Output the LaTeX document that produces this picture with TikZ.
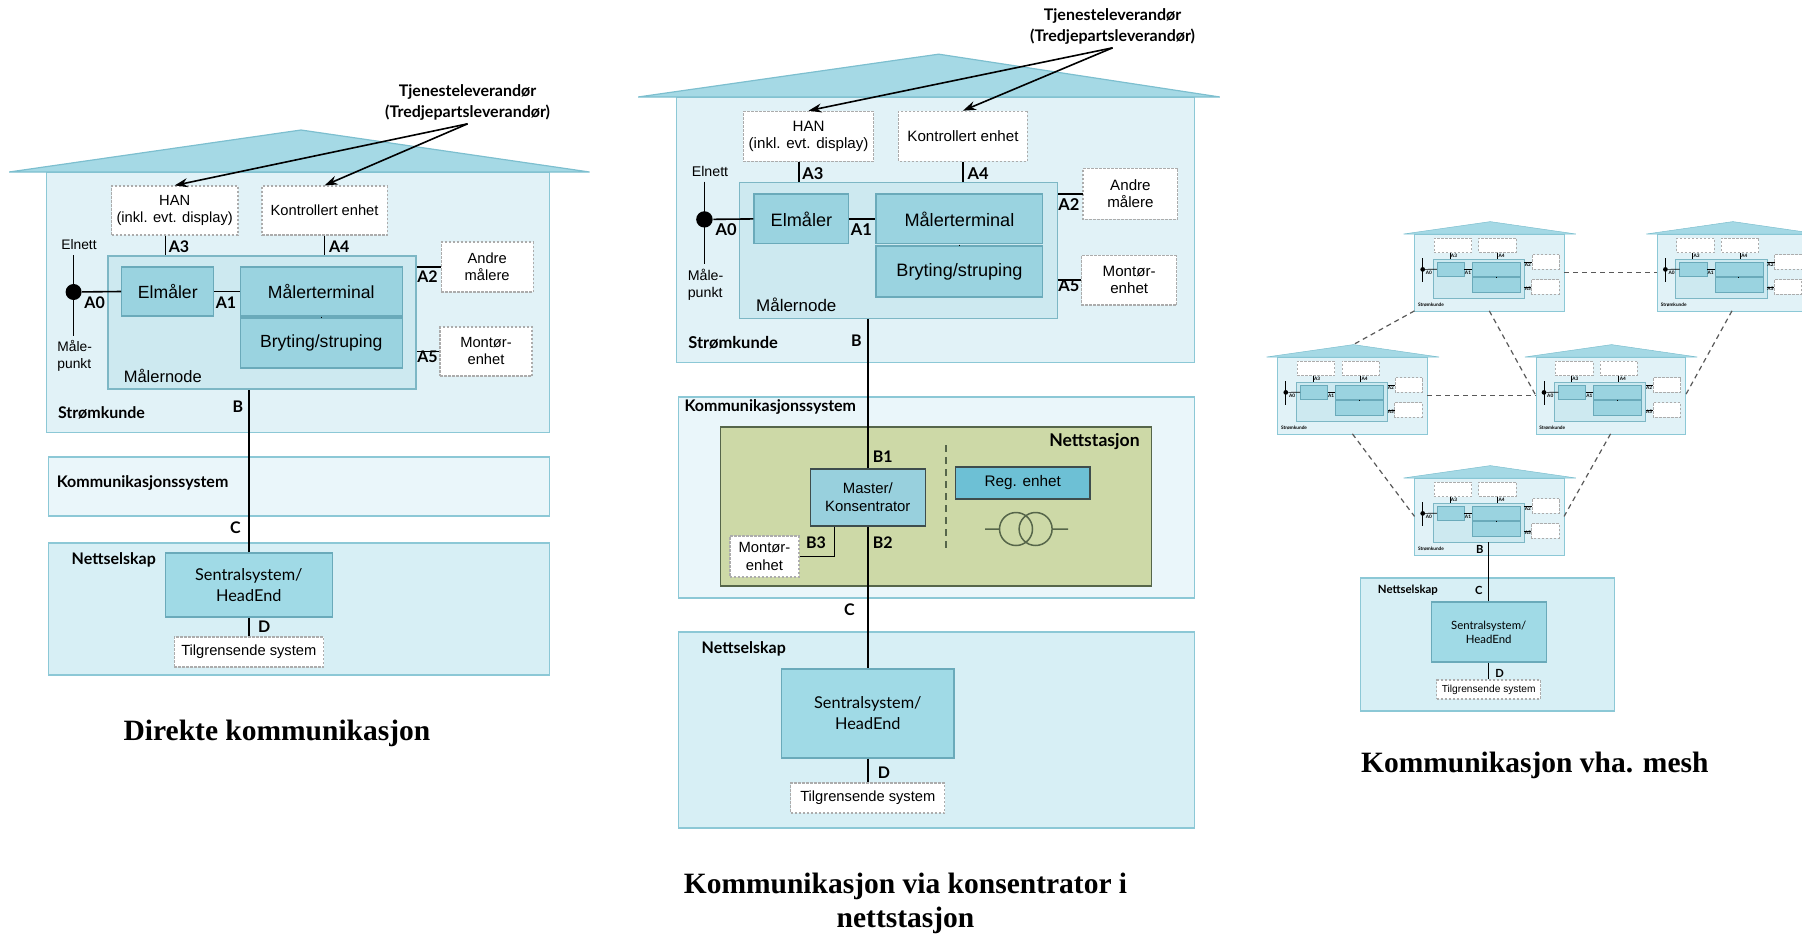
\documentclass[tikz,border=0pt]{standalone}
\usepackage{fontspec}
\setmainfont{Liberation Sans}
\newfontfamily\humanist{Lato}
\newfontfamily\tittelfont{Liberation Serif}
\usetikzlibrary{arrows.meta}

\definecolor{husfyll}{HTML}{E1F2F7}
\definecolor{husrand}{HTML}{8CC8D6}
\definecolor{takfyll}{HTML}{A5D9E5}
\definecolor{takrand}{HTML}{7DBFCF}
\definecolor{nodefyll}{HTML}{CDE9F0}
\definecolor{noderand}{HTML}{7DB7C5}
\definecolor{enhetfyll}{HTML}{9AD3E0}
\definecolor{enhetrand}{HTML}{6AAABA}
\definecolor{ksysfyll}{HTML}{EAF6FA}
\definecolor{nettfyll}{HTML}{D7EFF5}
\definecolor{sentralfyll}{HTML}{A0DAE6}
\definecolor{stasjonfyll}{HTML}{CDD9A7}
\definecolor{stasjonrand}{HTML}{56664A}
\definecolor{masterfyll}{HTML}{98D0DD}
\definecolor{regfyll}{HTML}{6DC0D5}
\definecolor{mrk}{HTML}{3E4D4D}

\tikzset{
  hus/.style={draw=husrand, fill=husfyll},
  tak/.style={draw=takrand, fill=takfyll},
  maalernode/.style={draw=noderand, fill=nodefyll},
  enhet/.style={draw=enhetrand, fill=enhetfyll, font=\fontsize{17.6}{20}\selectfont},
  stiplet/.style={draw=gray!65, fill=white, dash pattern=on 2.5pt off 1.5pt, align=center, font=\fontsize{14.7}{17}\selectfont},
  liten/.style={font=\fontsize{13.8}{17}\selectfont},
  etikett/.style={font=\humanist\bfseries\fontsize{16}{21}\selectfont},
  omraade/.style={draw=husrand, fill=#1, inner sep=0},
  sentral/.style={draw=enhetrand, fill=sentralfyll, align=center, font=\humanist\fontsize{16.3}{21}\selectfont},
  stasjon/.style={draw=stasjonrand, fill=stasjonfyll, line width=1.5pt},
  master/.style={draw=mrk, fill=masterfyll, align=center, font=\fontsize{14.9}{18}\selectfont},
  regenhet/.style={draw=mrk, fill=regfyll, font=\fontsize{15.3}{17}\selectfont},
  prikk/.style={circle, fill=black, inner sep=0, minimum size=16},
  lenke/.style={draw=black, line width=1.6pt},
  pil/.style={-{Stealth[length=13pt,width=9pt]}, line width=1.6pt},
  mesh/.style={draw=black!65, line width=1.2pt, dash pattern=on 5pt off 4pt},
  tittel/.style={font=\tittelfont\bfseries\fontsize{29.5}{34}\selectfont, align=center},
}

\newif\ifstor
\stortrue

\newcommand{\maalerhus}[2][543.5]{%
  \node[hus, anchor=north west, minimum width=503, minimum height=260] (#2-hus) at (0,0) {};
  \filldraw[tak] (-36.8,0) -- (255,-42) coordinate (#2-topp) -- (#1,0) -- cycle;
  \node[maalernode, minimum width=308, minimum height=133] (#2-node) at (216,150.5) {};
  \node[enhet, minimum width=92, minimum height=49] (#2-elm) at (121.8,119.5) {\ifstor Elmåler\fi};
  \node[enhet, minimum width=162, minimum height=49] (#2-mt) at (275.2,119.5) {\ifstor Målerterminal\fi};
  \node[enhet, minimum width=162, minimum height=50] (#2-bs) at (275.2,171) {\ifstor Bryting/struping\fi};
  \node[stiplet, minimum width=126.4, minimum height=49] (#2-han) at (128.7,38.5) {\ifstor HAN\\(inkl. evt. display)\fi};
  \node[stiplet, minimum width=125.2, minimum height=49] (#2-ke) at (278.6,38.5) {\ifstor Kontrollert enhet\fi};
  \node[stiplet, minimum width=92, minimum height=50] (#2-andre) at (441.2,95) {\ifstor Andre\\målere\fi};
  \node[stiplet, minimum width=92, minimum height=49] (#2-montor) at (440,179.5) {\ifstor Montør-\\enhet\fi};
  \coordinate (#2-elnett) at (27.6,83);
  \coordinate (#2-punkt) at (27.6,164);
  \node[prikk] (#2-prikk) at (27.6,120) {};
  \draw[lenke] (#2-elnett) -- (#2-punkt);
  \draw[lenke] (#2-prikk) -- (#2-elm.west);
  \draw[lenke] (#2-elm.east) -- (#2-mt.west);
  \draw[lenke, line width=1pt] (#2-mt.south) -- (#2-bs.north);
  \draw[lenke] (#2-han.250) -- (#2-han.250 |- #2-node.north);
  \draw[lenke] (#2-ke.south) -- (#2-ke.south |- #2-node.north);
  \draw[lenke] (#2-andre.west) -- (#2-andre.west -| #2-node.east);
  \draw[lenke] (#2-montor.west) -- (#2-montor.west -| #2-node.east);
  \node[etikett] (#2-a0) at (48.6,130.3) {A0};
  \node[etikett] (#2-a1) at (180,130.3) {A1};
  \node[etikett] (#2-a2) at (381.5,105) {A2};
  \node[etikett] (#2-a3) at (133,74.7) {A3};
  \node[etikett] (#2-a4) at (293.3,74.7) {A4};
  \node[etikett] (#2-a5) at (381.5,184.7) {A5};
  \node[liten] (#2-elnett-tekst) at (33,73) {\ifstor Elnett\fi};
  \node[liten, align=left] (#2-maale) at (28.7,184) {\ifstor Måle-\\punkt\fi};
  \node[liten, font=\fontsize{16.5}{19}\selectfont] (#2-mn-tekst) at (116.8,204) {\ifstor Målernode\fi};
  \node[etikett] (#2-kunde) at (55.5,240.7) {Strømkunde};
}

\begin{document}
\begin{tikzpicture}[x=1pt, y=-1pt, line width=1.2pt]
\useasboundingbox (0,0) rectangle (1802,937);

\node[omraade=ksysfyll, minimum width=501, minimum height=59] (ksys1) at (298.7,486.5) {};
\node[omraade=nettfyll, minimum width=501, minimum height=132] (nett1) at (298.7,609) {};
\begin{scope}[shift={(46,172)}, transform shape]
  \maalerhus{v}
\end{scope}
\node[etikett, anchor=west] (ksys1-tekst) at (52.9,483) {Kommunikasjonssystem};
\node[etikett, anchor=west] (nett1-tekst) at (67.8,560) {Nettselskap};
\node[sentral, minimum width=166.6, minimum height=64] (sentral1) at (248.8,585) {Sentralsystem/\\HeadEnd};
\node[stiplet, minimum width=149.4, minimum height=30] (tilgr1) at (248.8,652) {Tilgrensende system};
\draw[lenke] (sentral1.north) -- (sentral1.north |- v-node.south);
\draw[lenke] (sentral1.south) -- (tilgr1.north);
\node[etikett] (b1) at (237.8,407) {B};
\node[etikett] (c1) at (235.5,528) {C};
\node[etikett] (d1) at (264.3,627) {D};
\node[etikett, align=center] (tjen1) at (467.6,102) {Tjenesteleverandør\\(Tredjepartsleverandør)};
\draw[pil] (tjen1.south) -- (v-han.north);
\draw[pil] (tjen1.south) -- (v-ke.north);
\node[tittel] (tittel1) at (277,733) {Direkte kommunikasjon};

\node[omraade=ksysfyll, minimum width=516, minimum height=201] (ksys2) at (936.2,497.5) {};
\node[omraade=nettfyll, minimum width=516, minimum height=196] (nett2) at (936.2,730) {};
\begin{scope}[shift={(676,97)}, xscale=1.03, yscale=1.02, transform shape]
  \maalerhus[528]{k}
\end{scope}
\node[etikett, anchor=west] (ksys2-tekst) at (680.6,407) {Kommunikasjonssystem};
\node[stasjon, minimum width=431, minimum height=159] (stasjon) at (936.2,506.5) {};
\node[etikett, anchor=east, font=\humanist\bfseries\fontsize{17.6}{20}\selectfont] (stasjon-tekst) at (1143.6,442) {Nettstasjon};
\node[master, minimum width=115, minimum height=57] (master) at (867.8,497.5) {Master/\\Konsentrator};
\node[stiplet, minimum width=69, minimum height=41, font=\fontsize{14.8}{18}\selectfont] (montor2) at (764.4,556.5) {Montør-\\enhet};
\node[regenhet, minimum width=134.4, minimum height=32] (reg) at (1022.8,483) {Reg. enhet};
\draw[stasjonrand, line width=1.5pt, dash pattern=on 7pt off 5pt] (946,445) -- (946,548);
\draw[stasjonrand, line width=1.5pt] (1016,529) circle[radius=16.5pt] (1035.6,529) circle[radius=16.5pt]
  (985,529) -- (999.5,529) (1052.1,529) -- (1068,529);
\node[etikett, anchor=west] (nett2-tekst) at (697.8,649) {Nettselskap};
\node[sentral, minimum width=172.4, minimum height=89] (sentral2) at (867.8,713.5) {Sentralsystem/\\HeadEnd};
\node[stiplet, minimum width=154, minimum height=30] (tilgr2) at (867.8,798) {Tilgrensende system};
\draw[lenke] (master.north) -- (master.north |- k-node.south);
\draw[lenke] (master.south) -- (sentral2.north);
\draw[lenke] ([xshift=-33.3pt]master.south) |- (montor2.east);
\draw[lenke] (sentral2.south) -- (tilgr2.north);
\node[etikett] (b2) at (856.4,341) {B};
\node[etikett] (b2-1) at (882.8,457) {B1};
\node[etikett] (b2-2) at (882.8,543) {B2};
\node[etikett] (b2-3) at (816,543) {B3};
\node[etikett] (c2) at (849.5,610) {C};
\node[etikett] (d2) at (884,773) {D};
\node[etikett, align=center] (tjen2) at (1112.6,26) {Tjenesteleverandør\\(Tredjepartsleverandør)};
\draw[pil] (tjen2.south) -- (k-han.north);
\draw[pil] (tjen2.south) -- (k-ke.north);
\node[tittel] (tittel2) at (905.5,903) {Kommunikasjon via konsentrator i\\nettstasjon};

\storfalse
\node[omraade=nettfyll, minimum width=254, minimum height=133] (nett3) at (1487.6,644.5) {};
\foreach \navn/\hx/\hy in {h1/1414.5/234, h2/1657.2/234, h3/1277.6/357, h4/1535.8/357, h5/1414.5/478}{
  \begin{scope}[shift={(\hx,\hy)}, xscale=0.297, yscale=0.295, transform shape, line width=0.5pt, lenke/.append style={line width=0.7pt}]
    \maalerhus{\navn}
  \end{scope}
}
\draw[mesh] (h1-hus.east) -- (h2-hus.west);
\draw[mesh] (h1-hus.south west) -- (h3-topp);
\draw[mesh] (h1-hus.south) -- (h4-hus.west);
\draw[mesh] (h2-hus.south) -- (h4-hus.east);
\draw[mesh] (h3-hus.east) -- (h4-hus.west);
\draw[mesh] (h3-hus.south) -- (h5-hus.west);
\draw[mesh] (h4-hus.south) -- (h5-hus.east);
\node[etikett, anchor=west, font=\humanist\bfseries\fontsize{11.4}{13}\selectfont] (nett3-tekst) at (1374,590) {Nettselskap};
\node[sentral, minimum width=115, minimum height=60, font=\humanist\fontsize{11.4}{14}\selectfont] (sentral3) at (1488.7,632) {Sentralsystem/\\HeadEnd};
\node[stiplet, minimum width=103.7, minimum height=19, inner sep=1pt, font=\fontsize{10.2}{12}\selectfont] (tilgr3) at (1488.7,689.5) {Tilgrensende system};
\draw[lenke, line width=1.2pt] (sentral3.north) -- (sentral3.north |- h5-node.south);
\draw[lenke, line width=1.2pt] (sentral3.south) -- (tilgr3.north);
\node[etikett, font=\humanist\bfseries\fontsize{11.2}{13}\selectfont] (b3) at (1479.8,549) {B};
\node[etikett, font=\humanist\bfseries\fontsize{11.2}{13}\selectfont] (c3) at (1478.8,590) {C};
\node[etikett, font=\humanist\bfseries\fontsize{11.2}{13}\selectfont] (d3) at (1499.5,673) {D};
\node[tittel] (tittel3) at (1534.8,765) {Kommunikasjon vha. mesh};
\end{tikzpicture}
\end{document}
